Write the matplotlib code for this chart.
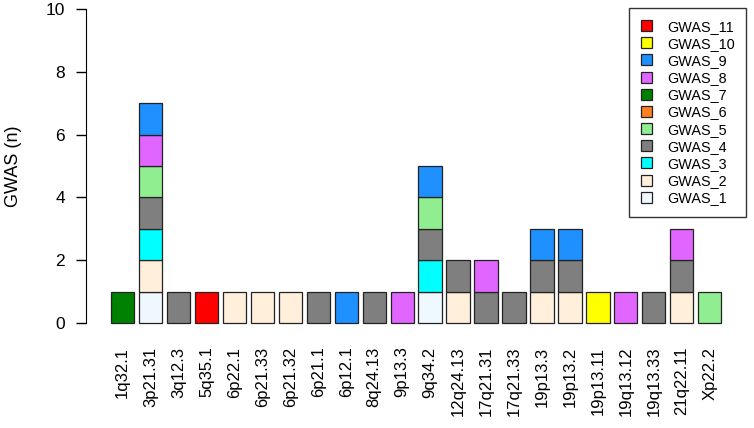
import numpy as np
import matplotlib.pyplot as plt
from matplotlib.patches import Patch

plt.rcParams['font.family'] = ['Liberation Sans', 'DejaVu Sans']

loci = ["1q32.1", "3p21.31", "3q12.3", "5q35.1", "6p22.1", "6p21.33", "6p21.32",
        "6p21.1", "6p12.1", "8q24.13", "9p13.3", "9q34.2", "12q24.13", "17q21.31",
        "17q21.33", "19p13.3", "19p13.2", "19p13.11", "19q13.12", "19q13.33",
        "21q22.11", "Xp22.2"]

gwas = ["GWAS_1", "GWAS_2", "GWAS_3", "GWAS_4", "GWAS_5", "GWAS_6",
        "GWAS_7", "GWAS_8", "GWAS_9", "GWAS_10", "GWAS_11"]
colors = ["#F0F8FF", "#FFEFDB", "#00FFFF", "#7F7F7F", "#90EE90", "#FF7F24",
          "#008000", "#E066FF", "#1E90FF", "#FFFF00", "#FF0000"]

# which GWAS report each locus (stacked bottom to top)
hits = {
    "1q32.1": [7], "3p21.31": [1, 2, 3, 4, 5, 8, 9], "3q12.3": [4], "5q35.1": [11],
    "6p22.1": [2], "6p21.33": [2], "6p21.32": [2], "6p21.1": [4], "6p12.1": [9],
    "8q24.13": [4], "9p13.3": [8], "9q34.2": [1, 3, 4, 5, 9], "12q24.13": [2, 4],
    "17q21.31": [4, 8], "17q21.33": [4], "19p13.3": [2, 4, 9], "19p13.2": [2, 4, 9],
    "19p13.11": [10], "19q13.12": [8], "19q13.33": [4], "21q22.11": [2, 4, 8],
    "Xp22.2": [5],
}

# presence matrix
mat = np.zeros((len(gwas), len(loci)))
for j, loc in enumerate(loci):
    for g in hits[loc]:
        mat[g - 1, j] = 1

fig = plt.figure(figsize=(7.54, 4.28), dpi=100)
ax = fig.add_axes([86 / 754, 105 / 428, 640 / 754, 314 / 428])

x = 0.2 + np.arange(len(loci)) * 1.2 + 0.5
bottom = np.zeros(len(loci))
for i in range(len(gwas)):
    on = mat[i] > 0
    if on.any():
        ax.bar(x[on], mat[i][on], width=1, bottom=bottom[on], color=colors[i],
               edgecolor="#222222", linewidth=0.9, clip_on=False)
    bottom += mat[i]

ax.set_xlim(-0.87, 26.6)
ax.set_ylim(0, 10)
for s in ["top", "right", "bottom"]:
    ax.spines[s].set_visible(False)
ax.spines["left"].set_bounds(0, 10)
ax.set_yticks([0, 2, 4, 6, 8, 10])
ax.tick_params(axis="y", length=7, width=1, labelsize=12.5, pad=8)
ax.set_xticks(x)
ax.set_xticklabels(loci, rotation=90, fontsize=12)
ax.tick_params(axis="x", length=0, pad=17)
ax.set_ylabel("GWAS (n)", fontsize=13)
ax.yaxis.set_label_coords(-0.10, 0.5)

handles = [Patch(facecolor=colors[i], edgecolor="#222222", linewidth=0.9, label=gwas[i])
           for i in range(len(gwas) - 1, -1, -1)]
leg = ax.legend(handles=handles, loc="upper right", bbox_to_anchor=(746 / 754, 1 - 8 / 428),
                bbox_transform=fig.transFigure, fancybox=False, edgecolor="black",
                fontsize=10.4, handlelength=0.8, handleheight=0.8, labelspacing=0.22,
                borderpad=0.8, handletextpad=1.0, borderaxespad=0)
leg.get_frame().set_linewidth(1)

fig.savefig("out.png", dpi=100)
